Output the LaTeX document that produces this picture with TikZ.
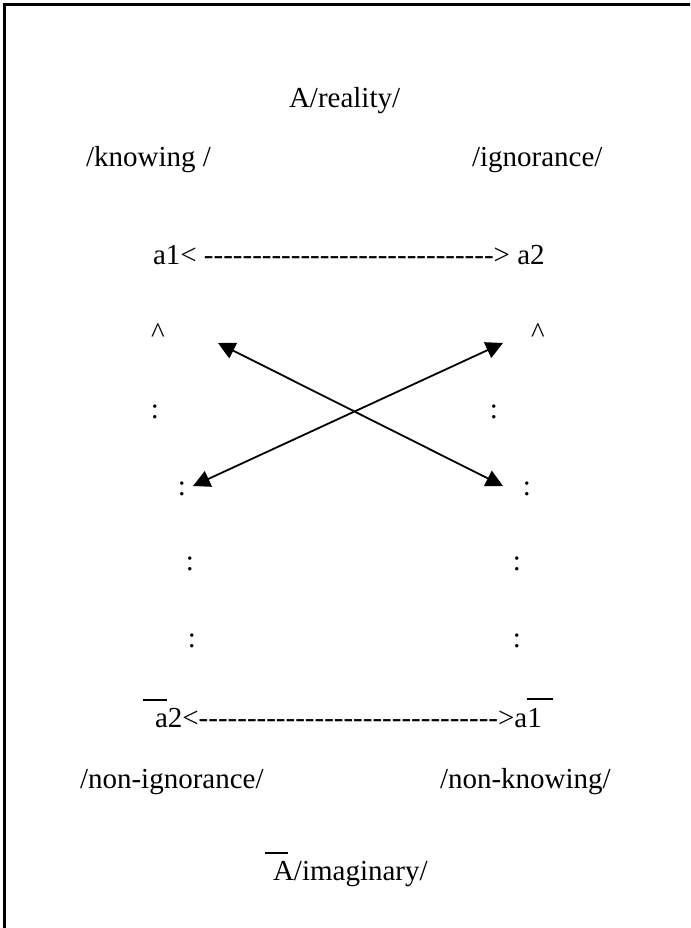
\documentclass[tikz,border=0pt]{standalone}
\usepackage{fontspec}
\setmainfont{Liberation Serif}[Ligatures=TeXOff]
\usetikzlibrary{arrows.meta}
\newcommand\hyrun[1]{\foreach\hyi in {1,...,#1}{-}}
\begin{document}
\begin{tikzpicture}[x=1pt,y=-1pt,
  txt/.style={inner sep=0pt,outer sep=0pt,font=\fontsize{29}{35}\selectfont},
  lw/.style={txt,anchor=base west},
  mid/.style={txt,anchor=base},
  xarrow/.style={line width=1.8pt,{Triangle[length=17pt,width=17pt]}-{Triangle[length=17pt,width=17pt]}},
  bar/.style={line width=2pt}]
\useasboundingbox (0,0) rectangle (690,928);
\clip (0,0) rectangle (690,928);
\draw[line width=3pt] (4.5,4.5) rectangle (720,960);
% top labels
\node[lw] (reality) at (289,108) {A/reality/};
\node[lw] (knowing) at (86,167) {/knowing /};
\node[lw] (ignorance) at (472,167) {/ignorance/};
\node[lw] (toprow) at (153,264) {a1< \hyrun{30}> a2};
% carets
\node[mid] (cl) at (158,342) {\textasciicircum};
\node[mid] (cr) at (538,342) {\textasciicircum};
% colons
\node[mid] (l1) at (155,418) {:};
\node[mid] (r1) at (494,418) {:};
\node[mid] (l2) at (182,495) {:};
\node[mid] (r2) at (527,495) {:};
\node[mid] (l3) at (190,570) {:};
\node[mid] (r3) at (517,570) {:};
\node[mid] (l4) at (192,647) {:};
\node[mid] (r4) at (517,647) {:};
% bottom row
\node[lw] (botrow) at (155,727) {a2<\hyrun{31}>a1};
\node[lw] (nonign) at (80,788) {/non-ignorance/};
\node[lw] (nonknow) at (440,788) {/non-knowing/};
\node[lw] (imag) at (273,880) {A/imaginary/};
% overline bars
\draw[bar] (143,700) -- (167,700);
\draw[bar] (527,699) -- (553,699);
\draw[bar] (265,853) -- (288,853);
% crossing arrows
\coordinate (p1) at (218,343);
\coordinate (p2) at (503,486);
\coordinate (p3) at (503,343);
\coordinate (p4) at (193,486);
\draw[xarrow] (p1) -- (p2);
\draw[xarrow] (p3) -- (p4);
\end{tikzpicture}
\end{document}
